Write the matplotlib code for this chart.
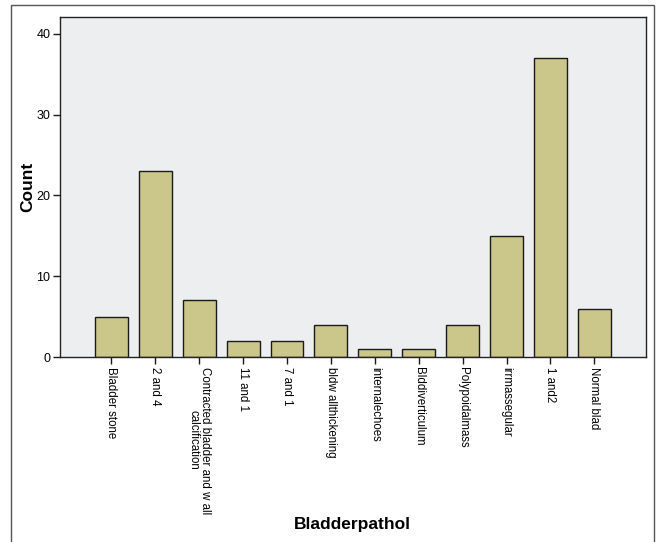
import matplotlib.pyplot as plt
from matplotlib.patches import Rectangle

categories = [
    "Bladder stone",
    "2 and 4",
    "Contracted bladder and w all\ncalcification",
    "11 and 1",
    "7 and 1",
    "bldw allthickening",
    "internalechoes",
    "Blddiverticulum",
    "Polypoidalmass",
    "irrmassegular",
    "1 and2",
    "Normal blad",
]
counts = [5, 23, 7, 2, 2, 4, 1, 1, 4, 15, 37, 6]
yticks = [0, 10, 20, 30, 40]

plt.rcParams["font.family"] = ["Liberation Sans", "DejaVu Sans"]

fig = plt.figure(figsize=(6.57, 5.42), dpi=100)
ax = fig.add_axes([60 / 657, 1 - 357 / 542, 585.7 / 657, 340 / 542])

# outer frame around the whole chart
fig.patches.append(
    Rectangle((11 / 657, -0.01), 643 / 657, 1.01 - 5 / 542,
              transform=fig.transFigure, fill=False,
              edgecolor="#555555", linewidth=1.0)
)

x = list(range(len(categories)))
ax.set_facecolor("#EDEEF0")
ax.bar(x, counts, width=0.75, color="#CBC68A", edgecolor="#1a1a1a", linewidth=1.0)

ax.set_xlim(-1.17, len(categories) - 1 + 1.17)
ax.set_ylim(0, 42.1)
ax.set_yticks(yticks)
ax.set_xticks(x)
ax.set_xticklabels(categories, rotation=270, ha="center", va="top",
                   fontsize=8.3, linespacing=1.0)
ax.tick_params(axis="both", direction="out", length=5, width=1, color="#1a1a1a", pad=2)
ax.tick_params(axis="y", labelsize=9)

for spine in ax.spines.values():
    spine.set_color("#222222")
    spine.set_linewidth(1.0)

ax.set_ylabel("Count", fontsize=12.5, fontweight="bold")
ax.yaxis.set_label_coords(-0.0546, 0.5)
ax.yaxis.label.set_va("center")
ax.set_xlabel("Bladderpathol", fontsize=12.5, fontweight="bold")
ax.xaxis.set_label_coords(0.5, -0.494)
ax.xaxis.label.set_va("center")

fig.savefig("out.png", dpi=100, facecolor="white")
